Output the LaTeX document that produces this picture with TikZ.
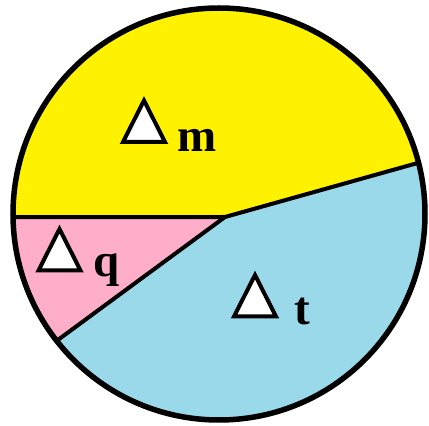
\documentclass[tikz,border=0pt]{standalone}
\usepackage{fontspec}
\setmainfont{Liberation Serif}
\usetikzlibrary{calc}
\definecolor{PaintYellow}{HTML}{FFF200}
\definecolor{PaintPink}{HTML}{FFAEC9}
\definecolor{PaintBlue}{HTML}{99D9EA}
\tikzset{
  delta/.pic={\draw[line width=4,fill=white,line join=miter] (-21,-20) -- (0,21.5) -- (21,-20) -- cycle;},
  sub/.style={anchor=base west,inner sep=0pt,font=\fontsize{47}{47}\selectfont\bfseries}
}
\begin{document}
\begin{tikzpicture}[x=1pt,y=1pt]
    \useasboundingbox (0,0) rectangle (429,426);
    \coordinate (O) at (219,212);
    \coordinate (J) at (225,209);
    \coordinate (A) at ($(O)+(180.9:206)$);
    \coordinate (B) at ($(O)+(14.4:206)$);
    \coordinate (C) at ($(O)+(218:206)$);
    % the three parts
    \fill[PaintYellow] (J) -- (B) arc[start angle=14.4,end angle=180.9,radius=206] -- cycle;
    \fill[PaintPink] (J) -- (A) arc[start angle=180.9,end angle=218,radius=206] -- cycle;
    \fill[PaintBlue] (J) -- (C) arc[start angle=218,end angle=374.4,radius=206] -- cycle;
    \draw[line width=4] (A) -- (J) -- (B);
    \draw[line width=4] (J) -- (C);
    \draw[line width=5.5] (O) circle[radius=206];
    % labels
    \pic at (144,304) {delta};
    \node[sub] (m) at (177,274) {m};
    \pic at (59.5,175.5) {delta};
    \node[sub] (q) at (93,149) {q};
    \pic at (255,129.5) {delta};
    \node[sub] (t) at (294,101) {t};
  \end{tikzpicture}
\end{document}
